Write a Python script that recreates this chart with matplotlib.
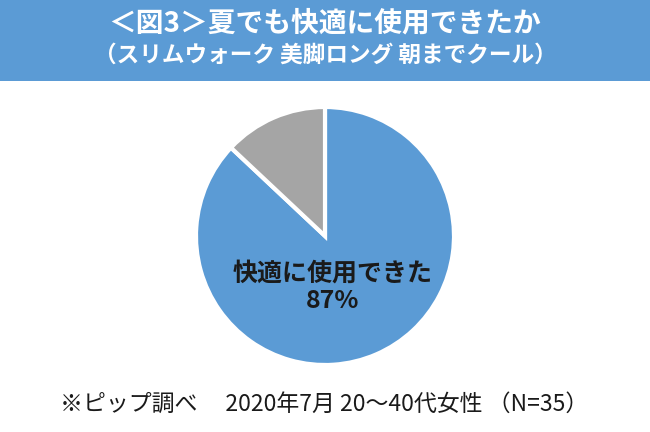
import matplotlib
matplotlib.use("Agg")
import matplotlib.pyplot as plt
from matplotlib.patches import Rectangle

plt.rcParams['font.family'] = ['Noto Sans CJK JP', 'DejaVu Sans']

# data
labels = ['快適に使用できた', 'その他']
values = [87, 13]
colors = ['#5B9BD5', '#A5A5A5']
title1 = '＜図3＞夏でも快適に使用できたか'
title2 = '（スリムウォーク 美脚ロング 朝までクール）'
footer = '※ピップ調べ　 2020年7月 20～40代女性 （N=35）'

W, H = 650, 432
fig = plt.figure(figsize=(W / 100, H / 100), dpi=100)

# blue header band
fig.patches.append(Rectangle((0, 1 - 81 / H), 1, 81 / H, transform=fig.transFigure,
                             facecolor='#5B9BD5', edgecolor='none', zorder=0))
fig.text(0.5, 1 - 23 / H, title1, ha='center', va='center', color='white',
         fontsize=20, fontweight='bold')
fig.text(0.5, 1 - 55 / H, title2, ha='center', va='center', color='white',
         fontsize=16.3, fontweight='bold')

# pie
cx, cy, r = 325, 236, 129
ax = fig.add_axes([(cx - r) / W, (H - cy - r) / H, 2 * r / W, 2 * r / H])
ax.pie(values, colors=colors, startangle=90, counterclock=False, radius=1,
       wedgeprops=dict(edgecolor='white', linewidth=3))
ax.set_xlim(-1, 1)
ax.set_ylim(-1, 1)
ax.set_aspect('equal')
ax.axis('off')
ax.text(0.06, -0.40, f'{labels[0]}\n{values[0]}%', ha='center', va='center',
        fontsize=18, fontweight='bold', color='#1a1a1a', linespacing=1.2)

fig.text(60 / W, 1 - 404 / H, footer, ha='left', va='center', color='#1a1a1a',
         fontsize=16.5)

fig.savefig('out.png', dpi=100)
